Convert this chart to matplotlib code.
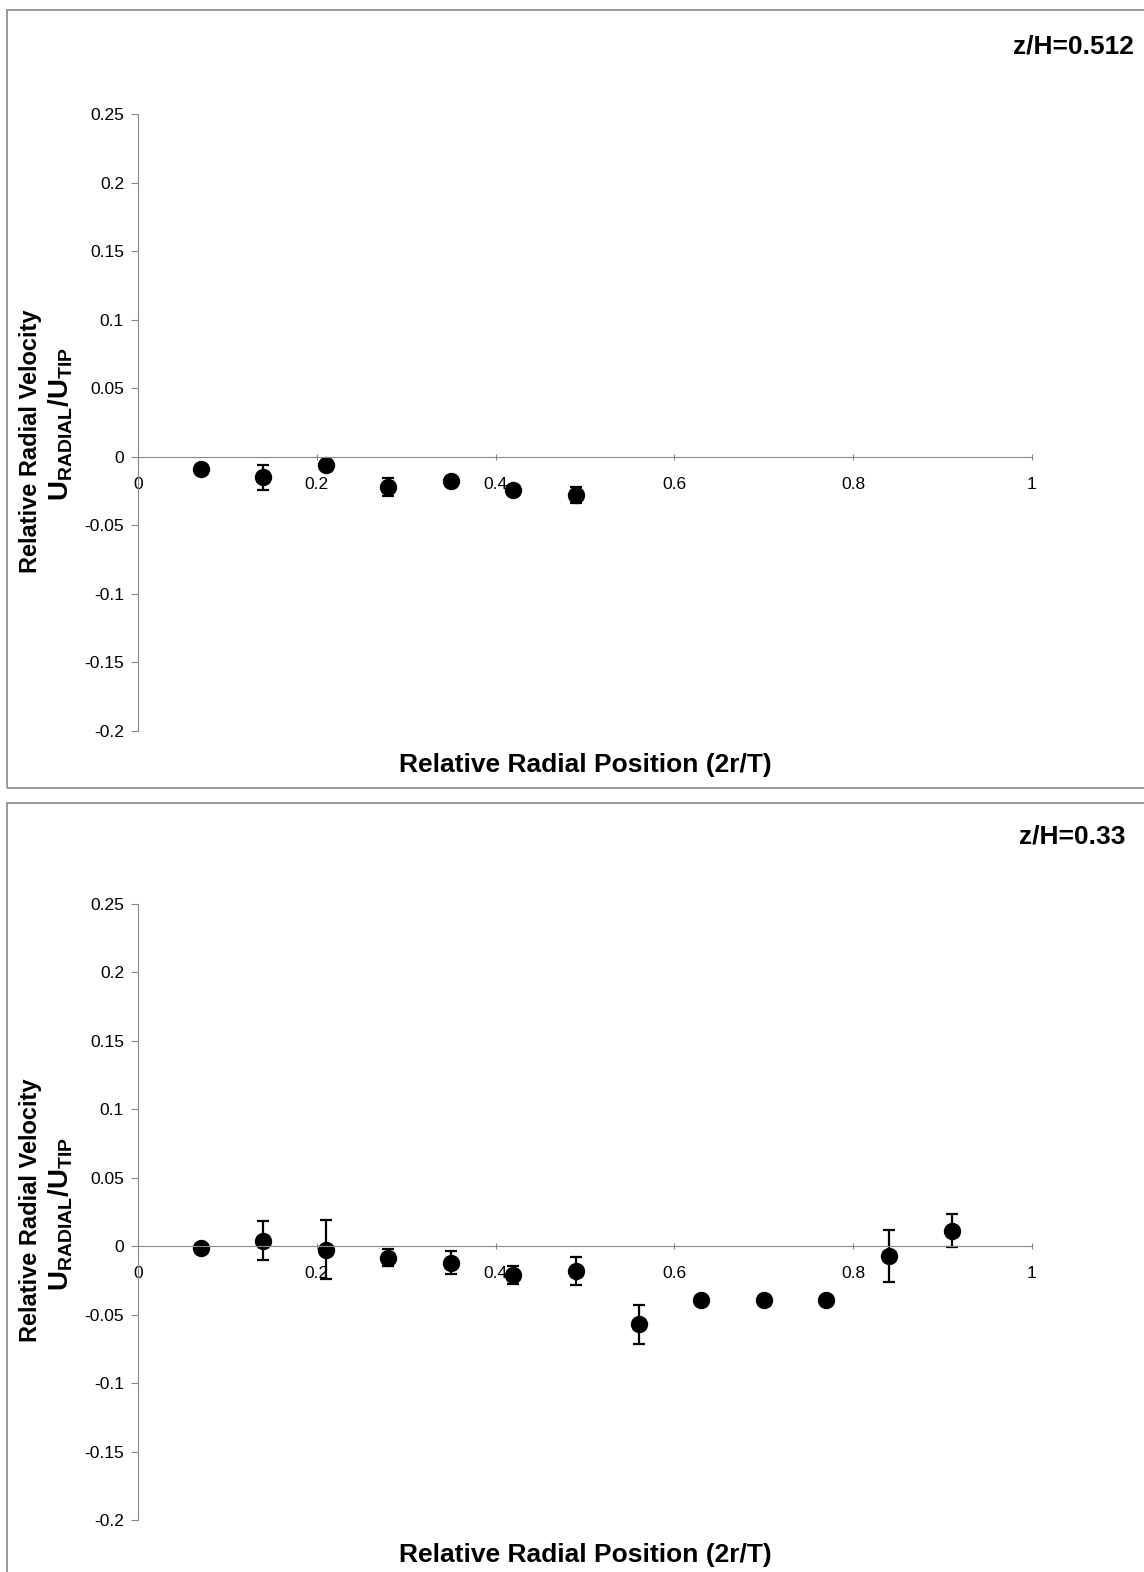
import numpy as np
import matplotlib
matplotlib.use("Agg")
import matplotlib.pyplot as plt
from matplotlib.patches import Rectangle
from matplotlib.ticker import FuncFormatter

plt.rcParams['font.family'] = ['Liberation Sans', 'DejaVu Sans']
plt.rcParams['mathtext.fontset'] = 'custom'
plt.rcParams['mathtext.rm'] = 'Liberation Sans'
plt.rcParams['mathtext.bf'] = 'Liberation Sans:bold'

# z/H = 0.512
x_top = [0.07, 0.14, 0.21, 0.28, 0.35, 0.42, 0.49]
u_top = [-0.009, -0.015, -0.006, -0.022, -0.018, -0.0245, -0.028]
err_top = [0.0, 0.009, 0.0, 0.0066, 0.0, 0.0, 0.0056]

# z/H = 0.33
x_bot = [0.07, 0.14, 0.21, 0.28, 0.35, 0.42, 0.49, 0.56, 0.63, 0.70, 0.77, 0.84, 0.91]
u_bot = [-0.0015, 0.004, -0.0025, -0.0083, -0.012, -0.021, -0.018, -0.057,
         -0.039, -0.039, -0.039, -0.007, 0.0114]
err_bot = [0.0, 0.0142, 0.0217, 0.0063, 0.0085, 0.0066, 0.010, 0.0142,
           0.0, 0.0, 0.0, 0.0189, 0.0118]

yticks = [0.25, 0.2, 0.15, 0.1, 0.05, 0, -0.05, -0.1, -0.15, -0.2]
xticks = [0, 0.2, 0.4, 0.6, 0.8, 1]

W, H = 1144, 1572
fig = plt.figure(figsize=(W / 100, H / 100), dpi=100)


def fy(py):
    return 1 - py / H


def panel(x, u, err, label, box_top, box_bot, ax_top, ax_bot, title_x, title_y, xlab_y, ylab1_y, ylab2_y):
    # panel frame (runs off the right/bottom edge like the scan)
    fig.add_artist(Rectangle((7 / W, fy(box_bot)), 1.2, fy(box_top) - fy(box_bot),
                             transform=fig.transFigure, fill=False,
                             edgecolor='#888888', lw=1.2, clip_on=False))
    ax = fig.add_axes([138 / W, fy(ax_bot), (1032 - 138) / W, fy(ax_top) - fy(ax_bot)])
    ax.errorbar(x, u, yerr=err, fmt='o', color='black', markersize=11.5,
                ecolor='black', elinewidth=1.6, capsize=4, capthick=1.6)
    ax.set_xlim(0, 1)
    ax.set_ylim(-0.2, 0.25)
    for s in ['top', 'right']:
        ax.spines[s].set_visible(False)
    ax.spines['bottom'].set_position(('data', 0))
    ax.spines['left'].set_color('#888888')
    ax.spines['bottom'].set_color('#888888')
    ax.set_xticks(xticks)
    ax.set_yticks(yticks)
    ax.xaxis.set_major_formatter(FuncFormatter(lambda v, p: '%g' % v))
    ax.yaxis.set_major_formatter(FuncFormatter(lambda v, p: '%g' % v))
    ax.tick_params(axis='y', direction='out', length=5, color='#888888', labelsize=12.5, pad=5)
    ax.tick_params(axis='x', direction='inout', length=5, color='#888888', labelsize=12.5, pad=12)
    fig.text(title_x / W, fy(title_y), label, ha='right', va='center',
             fontsize=19, fontweight='bold')
    fig.text(585 / W, fy(xlab_y), 'Relative Radial Position (2r/T)', ha='center', va='center',
             fontsize=19, fontweight='bold')
    fig.text(31 / W, fy(ylab1_y), 'Relative Radial Velocity', ha='center', va='center',
             rotation=90, fontsize=17, fontweight='bold')
    fig.text(61 / W, fy(ylab2_y), r'$\mathbf{U_{RADIAL}/U_{TIP}}$', ha='center', va='center',
             rotation=90, fontsize=20)
    return ax


panel(x_top, u_top, err_top, 'z/H=0.512', 10, 788, 114, 731, 1134, 46, 765, 441, 424)
panel(x_bot, u_bot, err_bot, 'z/H=0.33', 803, 1640, 904, 1520, 1125, 836, 1555, 1210, 1214)

fig.savefig('out.png', dpi=100)
